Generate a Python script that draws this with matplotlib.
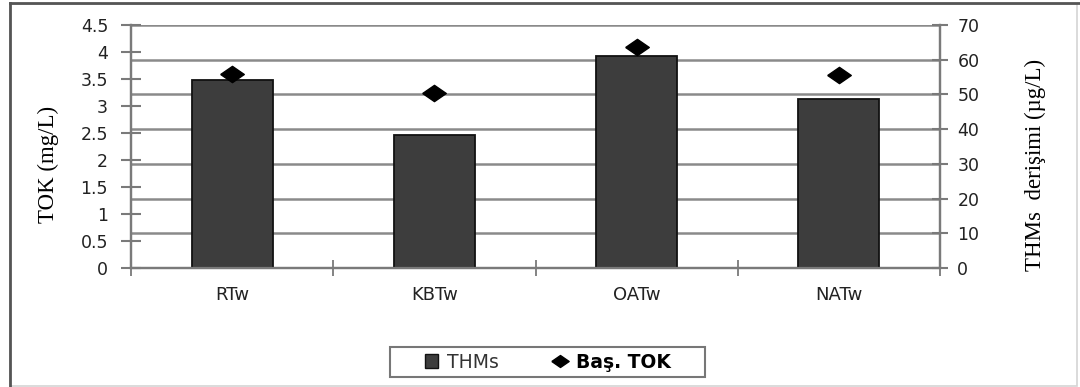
import matplotlib
matplotlib.use("Agg")
import matplotlib.pyplot as plt
from matplotlib.lines import Line2D
from matplotlib.patches import Rectangle, Patch
import numpy as np

# Sampling points and measured values
categories = ["RTw", "KBTw", "OATw", "NATw"]
thms_values = [54.2, 38.3, 61.2, 48.6]      # THMs concentration, µg/L (right axis)
tok_values = [3.60, 3.24, 4.09, 3.57]       # initial TOC, mg/L (left axis)
left_ticks = [0, 0.5, 1, 1.5, 2, 2.5, 3, 3.5, 4, 4.5]
left_ticklabels = ["0", "0.5", "1", "1.5", "2", "2.5", "3", "3.5", "4", "4.5"]
right_ticks = [0, 10, 20, 30, 40, 50, 60, 70]

TICK_FONT = "DejaVu Sans"
LABEL_FONT = "Liberation Serif"
AX_GRAY = "#7a7a7a"
TXT = "#222222"
W, H = 1080, 387

fig = plt.figure(figsize=(W / 100, H / 100), dpi=100)
ax = fig.add_axes([131 / W, 1 - 268 / H, (940 - 131) / W, (268 - 25) / H])
ax2 = ax.twinx()

x = np.arange(len(categories))

# THMs bars on the right-hand scale
ax2.bar(x, thms_values, width=0.40, color="#3d3d3d", edgecolor="#111111",
        linewidth=1.3, zorder=3)
ax2.set_ylim(0, 70)
ax2.set_yticks(right_ticks)
ax2.set_yticklabels([str(v) for v in right_ticks], fontfamily=TICK_FONT,
                    fontsize=12.5, color=TXT)
ax2.grid(axis="y", color="#8a8a8a", linewidth=1.8, zorder=0)
ax2.set_axisbelow(True)
ax2.tick_params(axis="y", direction="inout", length=11, width=1.5,
                color=AX_GRAY, pad=7)

# TOK markers on the left-hand scale, drawn above the bars
diamond = [(-1.45, 0), (0, 1), (1.45, 0), (0, -1), (-1.45, 0)]
ax.plot(x, tok_values, linestyle="none", marker=diamond, markersize=17,
        color="black", zorder=5)
ax.set_zorder(ax2.get_zorder() + 1)
ax.patch.set_visible(False)
ax.set_ylim(0, 4.5)
ax.set_yticks(left_ticks)
ax.set_yticklabels(left_ticklabels, fontfamily=TICK_FONT, fontsize=12.5, color=TXT)
ax.tick_params(axis="y", direction="inout", length=15, width=1.5,
               color=AX_GRAY, pad=9)

# Category axis: labels at centres, tick marks at the boundaries
ax.set_xlim(-0.5, len(categories) - 0.5)
ax.set_xticks(np.arange(len(categories) + 1) - 0.5)
ax.set_xticklabels([])
ax.set_xticks(x, minor=True)
ax.set_xticklabels(categories, minor=True, fontfamily=TICK_FONT, fontsize=13,
                   color=TXT)
ax.tick_params(axis="x", which="major", direction="inout", length=12, width=1.3,
               color=AX_GRAY)
ax.tick_params(axis="x", which="minor", length=0, pad=13)
ax2.set_xlim(ax.get_xlim())

for a in (ax, ax2):
    a.spines["top"].set_visible(False)
    for s in ("left", "right", "bottom"):
        a.spines[s].set_color(AX_GRAY)
        a.spines[s].set_linewidth(1.6)

ax.set_ylabel("TOK (mg/L)", fontfamily=LABEL_FONT, fontsize=16.5, color="black")
ax.yaxis.set_label_coords((48 - 131) / 809, (268 - 164) / 243)
ax.yaxis.label.set_verticalalignment("center")
ax2.set_ylabel("THMs  derişimi (µg/L)", fontfamily=LABEL_FONT, fontsize=16.5,
               color="black")
ax2.yaxis.set_label_coords((1035 - 131) / 809, (268 - 165) / 243)
ax2.yaxis.label.set_verticalalignment("center")

# Legend below the plot, inside its own box
handles = [
    Patch(facecolor="#3d3d3d", edgecolor="#111111", linewidth=1.0, label="THMs"),
    Line2D([], [], linestyle="none", marker=diamond, markersize=12.5,
           color="black", label="Baş. TOK"),
]
leg = fig.legend(handles=handles, loc="center",
                 bbox_to_anchor=(548 / W, 1 - 362 / H),
                 ncol=2, frameon=False,
                 handlelength=0.7, handleheight=0.7, handletextpad=0.5,
                 columnspacing=2.9, borderpad=0.2,
                 prop={"family": TICK_FONT, "size": 13.5})
leg.get_texts()[0].set_color("#333333")
leg.get_texts()[1].set_fontweight("bold")
leg.get_texts()[1].set_color("black")
fig.add_artist(Rectangle((390 / W, 1 - 377 / H), (705 - 390) / W, 30 / H,
                         transform=fig.transFigure, fill=False,
                         edgecolor="#777777", linewidth=1.5))

# Outer frame of the chart area
fig.add_artist(Rectangle((10 / W, 1 / H), 1067 / W, 382 / H,
                         transform=fig.transFigure, fill=False,
                         edgecolor="#d4d4d4", linewidth=1.2))
fig.add_artist(Line2D([10 / W, 10 / W], [0, 1 - 3 / H],
                      transform=fig.transFigure, color="#555555", linewidth=2))
fig.add_artist(Line2D([10 / W, 1], [1 - 3 / H, 1 - 3 / H],
                      transform=fig.transFigure, color="#555555", linewidth=2))

fig.savefig("out.png", dpi=100, facecolor="white")
